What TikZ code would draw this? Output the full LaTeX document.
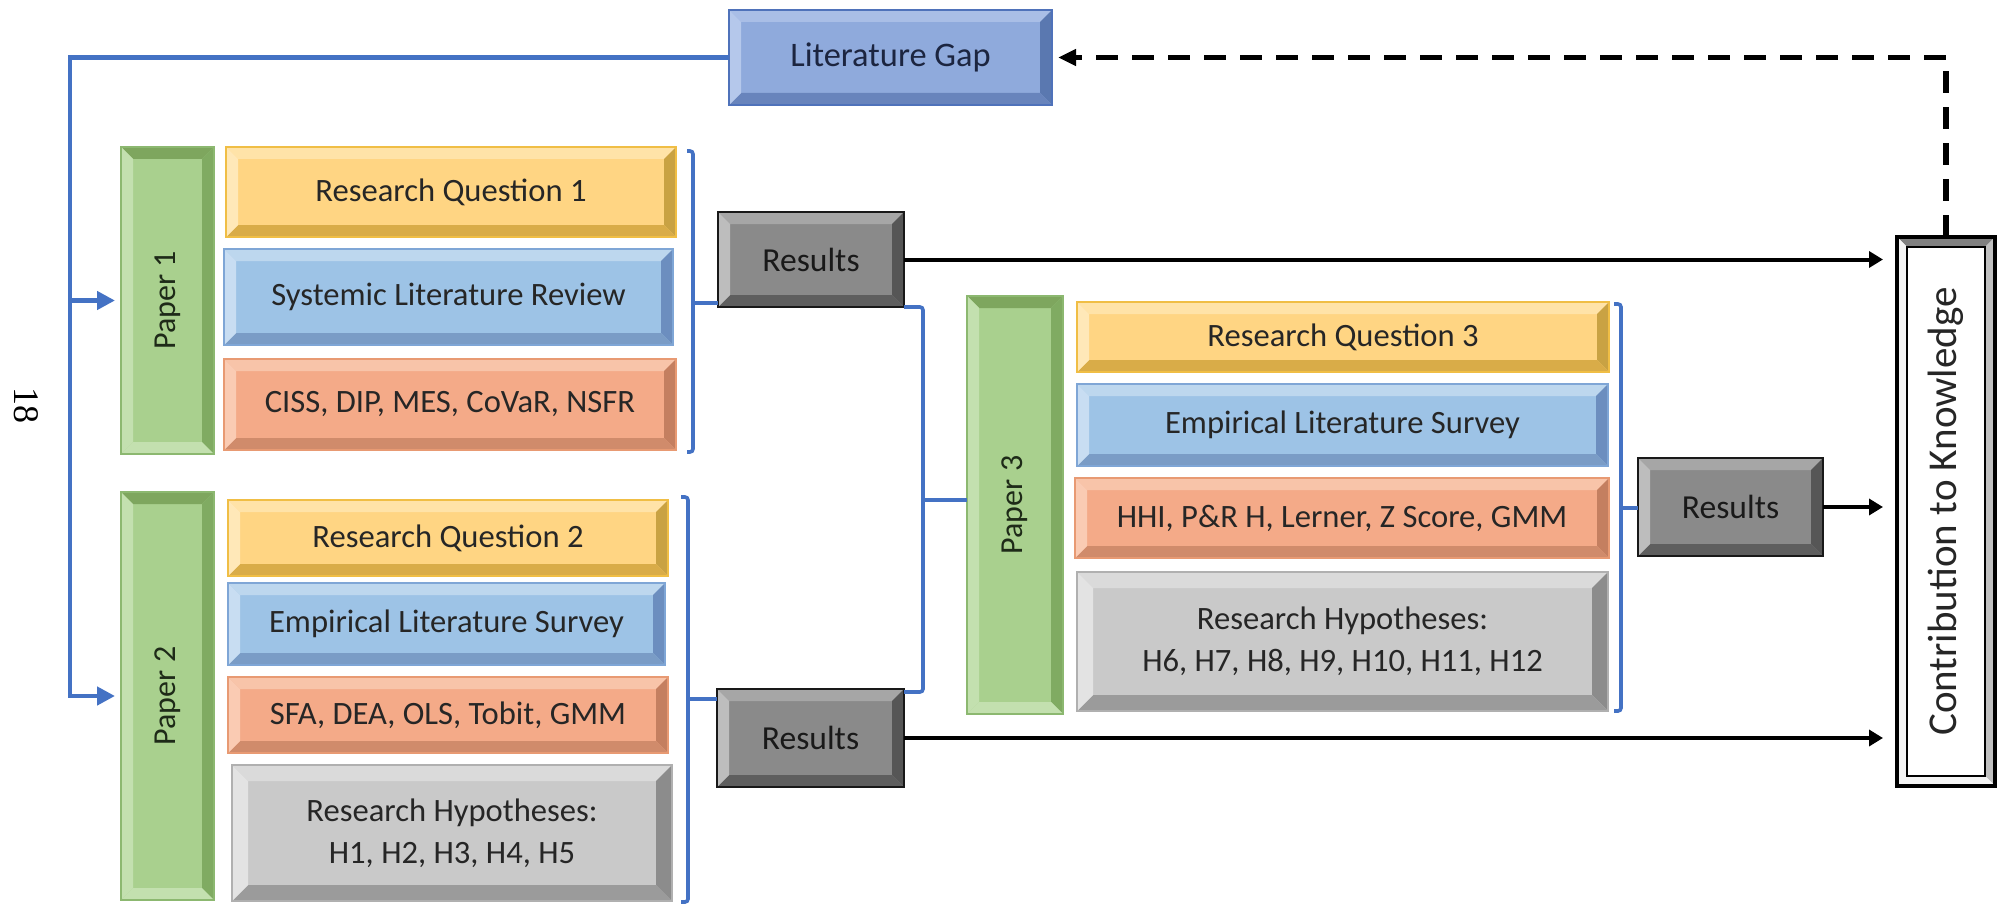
\documentclass[tikz,border=0pt]{standalone}
\usepackage{fontspec}
\setmainfont{Carlito}
\newfontfamily\numfont{Liberation Serif}
\usepackage{graphicx}
\usetikzlibrary{arrows.meta}

% palette
\definecolor{txt}{HTML}{262626}
\definecolor{lineblue}{HTML}{4472C4}
\definecolor{ylF}{HTML}{FFD583}\definecolor{ylT}{HTML}{FFE3A8}\definecolor{ylL}{HTML}{FFE8B8}
\definecolor{ylR}{HTML}{C9A243}\definecolor{ylB}{HTML}{D9AC48}\definecolor{ylO}{HTML}{F0BE45}
\definecolor{buF}{HTML}{9DC3E6}\definecolor{buT}{HTML}{BDD7EE}\definecolor{buL}{HTML}{C8DDF2}
\definecolor{buR}{HTML}{6C8EBF}\definecolor{buB}{HTML}{7A9CC6}\definecolor{buO}{HTML}{7FA6D6}
\definecolor{orF}{HTML}{F4AA88}\definecolor{orT}{HTML}{F8C4A9}\definecolor{orL}{HTML}{FACBB3}
\definecolor{orR}{HTML}{C47F60}\definecolor{orB}{HTML}{D08B6B}\definecolor{orO}{HTML}{E89A73}
\definecolor{gyF}{HTML}{C9C9C9}\definecolor{gyT}{HTML}{DADADA}\definecolor{gyL}{HTML}{E3E3E3}
\definecolor{gyR}{HTML}{8C8C8C}\definecolor{gyB}{HTML}{9B9B9B}\definecolor{gyO}{HTML}{B0B0B0}
\definecolor{gnF}{HTML}{A9D08E}\definecolor{gnT}{HTML}{7EA65E}\definecolor{gnL}{HTML}{C3E0AF}
\definecolor{gnR}{HTML}{80AB62}\definecolor{gnB}{HTML}{C3E0AF}\definecolor{gnO}{HTML}{8CB870}
\definecolor{gnTx}{HTML}{1E2A18}
\definecolor{lgF}{HTML}{8FAADC}\definecolor{lgT}{HTML}{A9BEE6}\definecolor{lgL}{HTML}{B5C8EB}
\definecolor{lgR}{HTML}{5A78B0}\definecolor{lgB}{HTML}{6884BC}\definecolor{lgO}{HTML}{4F72BA}
\definecolor{lgTx}{HTML}{1C2540}
\definecolor{rsF}{HTML}{8A8A8A}\definecolor{rsT}{HTML}{A6A6A6}\definecolor{rsL}{HTML}{BDBDBD}
\definecolor{rsR}{HTML}{565656}\definecolor{rsB}{HTML}{5E5E5E}
\definecolor{ckT}{HTML}{808080}\definecolor{ckL}{HTML}{F4F4F4}\definecolor{ckR}{HTML}{C0C0C0}

\tikzset{
  bev w/.store in=\bevW, bev top/.store in=\bevT, bev left/.store in=\bevL,
  bev right/.store in=\bevR, bev bot/.store in=\bevB, bev inner/.store in=\bevI,
  bev w=6pt, bev inner=none,
  beveled/.style={rectangle, inner sep=0pt, outer sep=0pt, line width=0.6pt,
    align=center, text=txt, font=\fontsize{16.3}{21}\selectfont,
    path picture={
      \coordinate (bNW) at (path picture bounding box.north west);
      \coordinate (bNE) at (path picture bounding box.north east);
      \coordinate (bSW) at (path picture bounding box.south west);
      \coordinate (bSE) at (path picture bounding box.south east);
      \fill[\bevT] (bNW) -- (bNE) -- ([shift={(-\bevW,-\bevW)}]bNE) -- ([shift={(\bevW,-\bevW)}]bNW) -- cycle;
      \fill[\bevR] (bNE) -- (bSE) -- ([shift={(-\bevW,\bevW)}]bSE) -- ([shift={(-\bevW,-\bevW)}]bNE) -- cycle;
      \fill[\bevB] (bSE) -- (bSW) -- ([shift={(\bevW,\bevW)}]bSW) -- ([shift={(-\bevW,\bevW)}]bSE) -- cycle;
      \fill[\bevL] (bSW) -- (bNW) -- ([shift={(\bevW,-\bevW)}]bNW) -- ([shift={(\bevW,\bevW)}]bSW) -- cycle;
      \path[draw=\bevI, line width=1pt] ([shift={(\bevW,-\bevW)}]bNW) rectangle ([shift={(-\bevW,\bevW)}]bSE);
    }},
  rqbox/.style={beveled, fill=ylF, draw=ylO, bev top=ylT, bev left=ylL, bev right=ylR, bev bot=ylB},
  litbox/.style={beveled, fill=buF, draw=buO, bev top=buT, bev left=buL, bev right=buR, bev bot=buB},
  metbox/.style={beveled, fill=orF, draw=orO, bev top=orT, bev left=orL, bev right=orR, bev bot=orB},
  hypbox/.style={beveled, fill=gyF, draw=gyO, bev top=gyT, bev left=gyL, bev right=gyR, bev bot=gyB, bev w=8pt},
  paperbox/.style={beveled, fill=gnF, draw=gnO, bev top=gnT, bev left=gnL, bev right=gnR, bev bot=gnB,
    text=gnTx, font=\fontsize{16}{20}\selectfont},
  gapbox/.style={beveled, fill=lgF, draw=lgO, bev top=lgT, bev left=lgL, bev right=lgR, bev bot=lgB,
    font=\fontsize{17.2}{21}\selectfont, text=lgTx},
  resbox/.style={beveled, fill=rsF, draw=black!90, bev top=rsT, bev left=rsL, bev right=rsR, bev bot=rsB,
    font=\fontsize{16.8}{21}\selectfont, text=black!90},
  ckbox/.style={beveled, fill=white, draw=black, line width=1.6pt, bev top=ckT, bev left=ckL, bev right=ckR,
    bev bot=ckL, bev w=5pt, bev inner=black, font=\fontsize{20.5}{24}\selectfont},
  feedback/.style={draw=lineblue, line width=2.3pt},
  bluearr/.style={feedback, -{Triangle[length=9pt,width=9pt]}, shorten >=3pt},
  brk/.style={draw=lineblue, line width=1.8pt, rounded corners=1.5pt},
  outarr/.style={draw=black, line width=2pt, -{Triangle[length=7pt,width=8pt]}, shorten >=7pt},
  backarr/.style={draw=black, line width=2.6pt, dash pattern=on 11pt off 7pt,
    -{Triangle[length=9pt,width=8pt]}, shorten >=3pt},
}

% \bevbox[style]{name}{x1}{y1}{x2}{y2}{text}  (pixel-grid corners)
\newcommand\bevbox[7][]{%
  \node[#1, minimum width={(#5-#3)*0.5pt}, minimum height={(#6-#4)*0.5pt}]
    (#2) at ({(#3+#5)/2},{(#4+#6)/2}) {#7};}

\begin{document}
\begin{tikzpicture}[x=0.5pt, y=-0.5pt]
\useasboundingbox (0,0) rectangle (2004,904);

% page number in the margin
\node[font=\numfont\fontsize{18}{18}\selectfont, rotate=-90] (pagenum) at (26,405) {18};

% top box
\bevbox[gapbox]{gap}{729}{10}{1052}{105}{Literature Gap}

% paper 1
\bevbox[paperbox]{p1}{121}{147}{214}{454}{\rotatebox{90}{Paper 1}}
\bevbox[rqbox]{rq1}{226}{147}{676}{237}{Research Question 1}
\bevbox[litbox]{slr}{224}{249}{673}{345}{Systemic Literature Review}
\bevbox[metbox]{ciss}{224}{359}{676}{450}{CISS, DIP, MES, CoVaR, NSFR}
\bevbox[resbox]{res1}{718}{212}{904}{307}{Results}

% paper 2
\bevbox[paperbox]{p2}{121}{492}{214}{900}{\rotatebox{90}{Paper 2}}
\bevbox[rqbox]{rq2}{228}{500}{668}{576}{Research Question 2}
\bevbox[litbox]{els2}{228}{583}{665}{665}{Empirical Literature Survey}
\bevbox[metbox]{sfa}{228}{677}{668}{753}{SFA, DEA, OLS, Tobit, GMM}
\bevbox[hypbox]{rh2}{232}{765}{672}{901}{Research Hypotheses:\\H1, H2, H3, H4, H5}
\bevbox[resbox]{res2}{717}{689}{904}{787}{Results}

% paper 3
\bevbox[paperbox]{p3}{967}{296}{1063}{714}{\rotatebox{90}{Paper 3}}
\bevbox[rqbox]{rq3}{1077}{302}{1609}{372}{Research Question 3}
\bevbox[litbox]{els3}{1077}{384}{1608}{466}{Empirical Literature Survey}
\bevbox[metbox]{hhi}{1075}{478}{1609}{558}{HHI, P\&R H, Lerner, Z Score, GMM}
\bevbox[hypbox]{rh3}{1077}{572}{1608}{711}{Research Hypotheses:\\H6, H7, H8, H9, H10, H11, H12}
\bevbox[resbox]{res3}{1638}{458}{1823}{556}{Results}

% final outcome
\bevbox[ckbox]{ck}{1897}{237}{1995}{786}{\rotatebox{90}{Contribution to Knowledge}}

% feedback loop from the literature gap to papers 1 and 2
\coordinate (fbx) at (70,57);
\draw[bluearr] (gap.west) -| (fbx |- p2.west) -- (p2.west);
\draw[bluearr] (fbx |- p1.west) -- (p1.west);

% group brackets
\coordinate (b1t) at (693,151); \coordinate (b1b) at (693,452); \coordinate (b1m) at (693,303);
\draw[brk] ([xshift=-3pt]b1t) -- (b1t) -- (b1b) -- ([xshift=-3pt]b1b);
\draw[brk] (b1m) -- (b1m -| res1.west);

\coordinate (b2t) at (688,497); \coordinate (b2b) at (688,902); \coordinate (b2m) at (688,699);
\draw[brk] ([xshift=-3.5pt]b2t) -- (b2t) -- (b2b) -- ([xshift=-3.5pt]b2b);
\draw[brk] (b2m) -- (b2m -| res2.west);

\coordinate (b3t) at (1621,304); \coordinate (b3b) at (1621,711); \coordinate (b3m) at (1621,508);
\draw[brk] ([xshift=-3.5pt]b3t) -- (b3t) -- (b3b) -- ([xshift=-3.5pt]b3b);
\draw[brk] (b3m) -- (b3m -| res3.west);

% results of papers 1 and 2 feed paper 3
\coordinate (rbx) at (923,500);
\draw[brk] (res1.south east) -- (res1.south east -| rbx) -- (rbx |- 0,692) -- ([yshift=-1.5pt]res2.north east);
\draw[brk] (rbx) -- (rbx -| p3.west);

% results to contribution
\draw[outarr] (res1.east) -- (res1.east -| ck.west);
\draw[outarr] (res3.east) -- (res3.east -| ck.west);
\draw[outarr] (res2.east) -- (res2.east -| ck.west);

% contribution back to the literature gap
\draw[backarr] (ck.north) |- (gap.east);
\end{tikzpicture}
\end{document}
